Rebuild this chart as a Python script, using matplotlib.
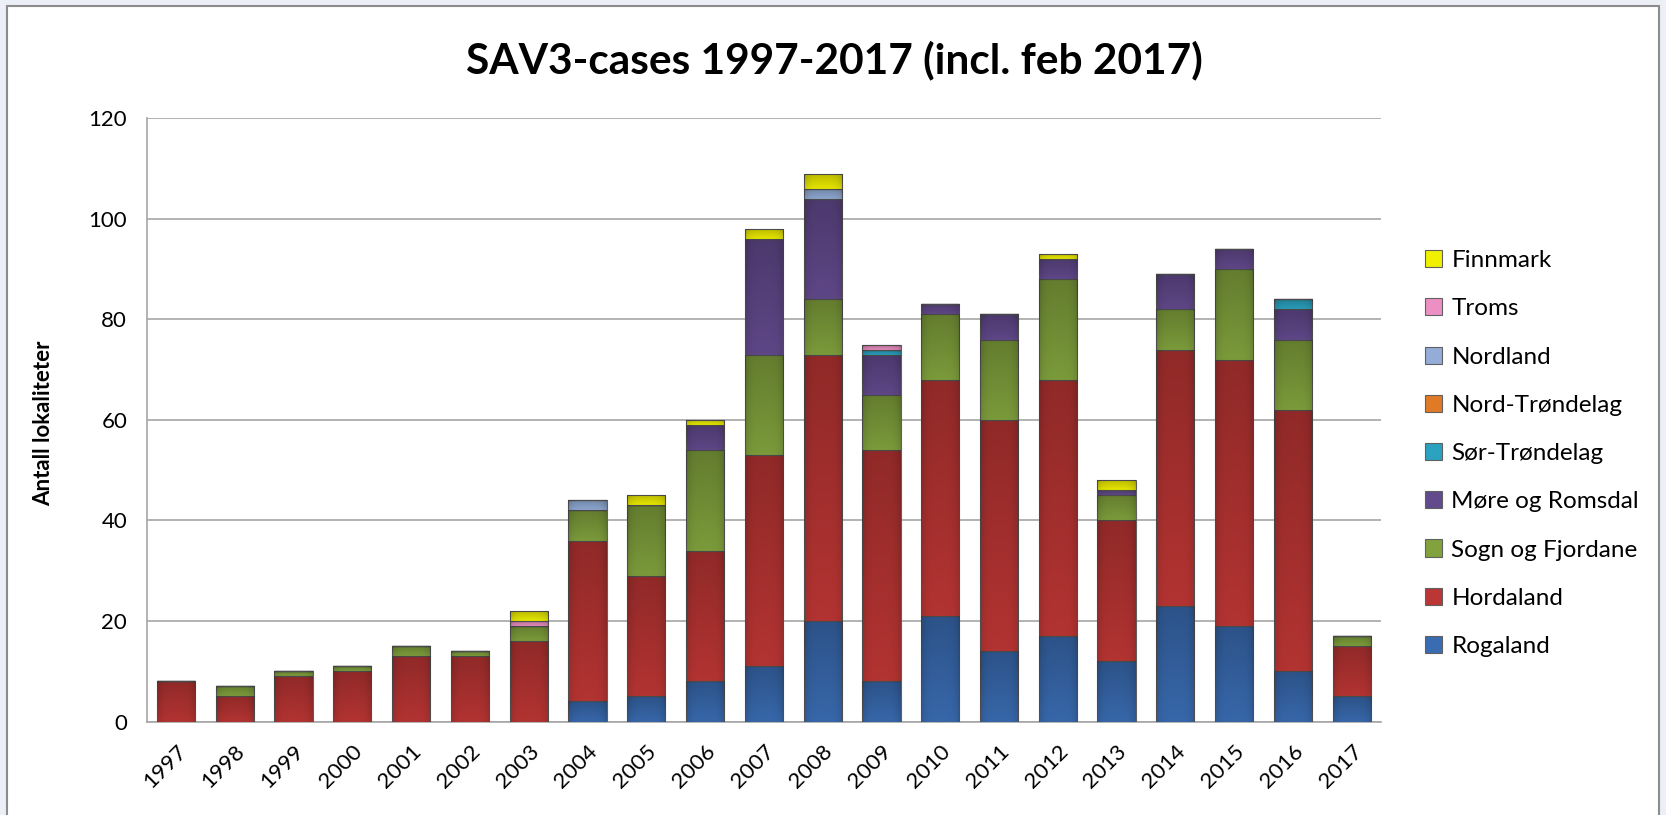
import matplotlib
matplotlib.use('Agg')
import matplotlib.pyplot as plt
import numpy as np
from matplotlib.patches import Rectangle

# Data
years = [str(y) for y in range(1997, 2018)]
rogaland =    [0, 0, 0, 0, 0, 0, 0, 4, 5, 8, 11, 20, 8, 21, 14, 17, 12, 23, 19, 10, 5]
hordaland =   [8, 5, 9, 10, 13, 13, 16, 32, 24, 26, 42, 53, 46, 47, 46, 51, 28, 51, 53, 52, 10]
sogn =        [0, 2, 1, 1, 2, 1, 3, 6, 14, 20, 20, 11, 11, 13, 16, 20, 5, 8, 18, 14, 2]
more =        [0, 0, 0, 0, 0, 0, 0, 0, 0, 5, 23, 20, 8, 2, 5, 4, 1, 7, 4, 6, 0]
sor_trond =   [0, 0, 0, 0, 0, 0, 0, 0, 0, 0, 0, 0, 1, 0, 0, 0, 0, 0, 0, 2, 0]
nord_trond =  [0] * 21
nordland =    [0, 0, 0, 0, 0, 0, 0, 2, 0, 0, 0, 2, 0, 0, 0, 0, 0, 0, 0, 0, 0]
troms =       [0, 0, 0, 0, 0, 0, 1, 0, 0, 0, 0, 0, 1, 0, 0, 0, 0, 0, 0, 0, 0]
finnmark =    [0, 0, 0, 0, 0, 0, 2, 0, 2, 1, 2, 3, 0, 0, 0, 1, 2, 0, 0, 0, 0]

series = [
    ('Rogaland', rogaland, '#3a6cb2'),
    ('Hordaland', hordaland, '#bb3634'),
    ('Sogn og Fjordane', sogn, '#81a23d'),
    ('Møre og Romsdal', more, '#634a8d'),
    ('Sør-Trøndelag', sor_trond, '#2ba2c0'),
    ('Nord-Trøndelag', nord_trond, '#e07a26'),
    ('Nordland', nordland, '#93add8'),
    ('Troms', troms, '#ec90c4'),
    ('Finnmark', finnmark, '#f0f000'),
]

font = 'Lato'

fig = plt.figure(figsize=(16.66, 8.15), dpi=100, facecolor='#eceff5')
# white chart area with grey frame
fig.patches.append(Rectangle((7 / 1666, -0.01), 1652 / 1666, 0.9995 - 6 / 815 + 0.01,
                             transform=fig.transFigure, facecolor='white',
                             edgecolor='#8c8c8c', linewidth=1.5, zorder=-10))

ax = fig.add_axes([0.088, 0.1147, 0.741, 0.740])
ax.set_zorder(1)
x = np.arange(len(years))
bottom = np.zeros(len(years))
handles = []
for name, vals, col in series:
    vals = np.array(vals, dtype=float)
    b = ax.bar(x, vals, width=0.65, bottom=bottom, color=col,
               edgecolor='#606060', linewidth=0.8, label=name, zorder=3)
    handles.append(b)
    bottom += vals

ax.set_xlim(-0.5, len(years) - 0.5)
ax.set_ylim(0, 120)

# soft shading on each bar segment (darker towards bottom and sides)
gy = np.linspace(0, 1, 40)[:, None]
gx = np.abs(np.linspace(-1, 1, 40))[None, :]
shade = np.zeros((40, 40, 4))
shade[..., 3] = 0.05 + 0.18 * gy + 0.12 * gx ** 4
for cont in handles:
    for p in cont.patches:
        if p.get_height() <= 0:
            continue
        x0, y0 = p.get_x(), p.get_y()
        im = ax.imshow(shade, extent=(x0, x0 + p.get_width(), y0 + p.get_height(), y0),
                       aspect='auto', origin='upper', zorder=3.5, interpolation='bilinear')
        im.set_clip_path(p)
ax.set_xlim(-0.5, len(years) - 0.5)
ax.set_ylim(0, 120)

ax.set_yticks(range(0, 121, 20))
ax.yaxis.grid(True, color='#a6a6a6', linewidth=1.2, zorder=0)
ax.set_axisbelow(True)
for s in ['top', 'right']:
    ax.spines[s].set_visible(False)
for s in ['left', 'bottom']:
    ax.spines[s].set_color('#a6a6a6')
    ax.spines[s].set_linewidth(1.2)
ax.tick_params(axis='both', length=0)
ax.tick_params(axis='x', pad=14)
ax.set_xticks(x)
ax.set_xticklabels(years, rotation=45, ha='right', rotation_mode='anchor',
                   fontsize=16, fontname=font)
for label in ax.get_yticklabels():
    label.set_fontname(font)
    label.set_fontsize(16)
ax.tick_params(axis='y', pad=14)

fig.text(0.026, 0.481, 'Antall lokaliteter', rotation=90, ha='center', va='center',
         fontsize=16, fontweight='bold', fontname=font)
fig.text(0.501, 0.926, 'SAV3-cases 1997-2017 (incl. feb 2017)', ha='center', va='center',
         fontsize=30.5, fontweight='bold', fontname=font)

leg = fig.legend(handles[::-1], [s[0] for s in series][::-1],
                 loc='upper left', bbox_to_anchor=(0.842, 0.72), frameon=False,
                 prop={'family': font, 'size': 17.5}, handlelength=0.7, handleheight=0.7,
                 handletextpad=0.4, labelspacing=1.12)

fig.savefig('out.png', dpi=100, facecolor=fig.get_facecolor())
